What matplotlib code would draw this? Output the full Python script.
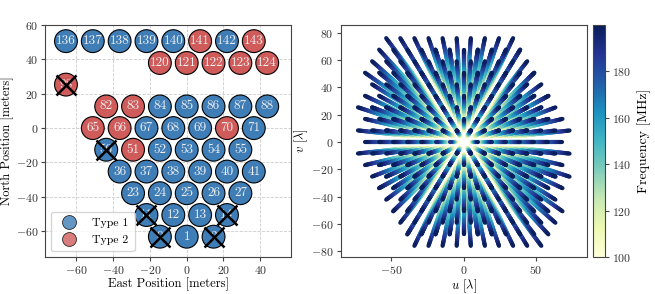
import numpy as np
import matplotlib
matplotlib.use("Agg")
import matplotlib.pyplot as plt
from matplotlib.collections import LineCollection
from matplotlib.lines import Line2D

plt.rcParams['font.family'] = 'serif'
plt.rcParams['font.serif'] = ['cmr10', 'DejaVu Serif']
plt.rcParams['mathtext.fontset'] = 'cm'
plt.rcParams['axes.formatter.use_mathtext'] = True
plt.rcParams['axes.unicode_minus'] = True

# antenna layout (meters), row by row
ant_num = [0, 1, 2,
           11, 12, 13, 14,
           23, 24, 25, 26, 27,
           36, 37, 38, 39, 40, 41,
           50, 51, 52, 53, 54, 55,
           65, 66, 67, 68, 69, 70, 71,
           82, 83, 84, 85, 86, 87, 88,
           98,
           120, 121, 122, 123, 124,
           136, 137, 138, 139, 140, 141, 142, 143]
ant_x = [-14.6, 0.0, 14.6,
         -21.9, -7.3, 7.3, 21.9,
         -29.2, -14.6, 0.0, 14.6, 29.2,
         -36.5, -21.9, -7.3, 7.3, 21.9, 36.5,
         -43.8, -29.2, -14.6, 0.0, 14.6, 29.2,
         -51.1, -36.5, -21.9, -7.3, 7.3, 21.9, 36.5,
         -43.8, -29.2, -14.6, 0.0, 14.6, 29.2, 43.8,
         -65.7,
         -14.6, 0.0, 14.6, 29.2, 43.8,
         -65.7, -51.1, -36.5, -21.9, -7.3, 7.3, 21.9, 36.5]
ant_y = [-63.2] * 3 + [-50.6] * 4 + [-37.9] * 5 + [-25.3] * 6 + [-12.6] * 6 + \
        [0.0] * 7 + [12.6] * 7 + [25.3] + [37.9] * 5 + [50.6] * 8
type2 = [51, 65, 66, 70, 82, 83, 98, 120, 121, 122, 123, 124, 141, 143]
flagged = [0, 2, 11, 14, 50, 98]

freq_min = 100.0   # MHz
freq_max = 199.9
n_freq = 40

blue = '#3f7db7'
red = '#d05b5b'

fig = plt.figure(figsize=(6.55, 2.94), dpi=100)
ax1 = fig.add_axes([0.069, 0.126, 0.376, 0.789])
ax2 = fig.add_axes([0.520, 0.126, 0.376, 0.789])
cax = fig.add_axes([0.906, 0.126, 0.018, 0.789])

# ---- left: array layout
cols = [red if n in type2 else blue for n in ant_num]
ax1.scatter(ant_x, ant_y, s=270, c=cols, edgecolors='k', linewidths=0.8, zorder=3)
for n, x, y in zip(ant_num, ant_x, ant_y):
    ax1.text(x, y, str(n), color='#eeeeee', fontsize=9.5, ha='center', va='center', zorder=4)
for n, x, y in zip(ant_num, ant_x, ant_y):
    if n in flagged:
        ax1.plot(x, y, marker='x', ms=15, mew=1.8, color='k', zorder=5)

ax1.set_xlim(-77, 57)
ax1.set_ylim(-75, 60)
ax1.set_xticks([-60, -40, -20, 0, 20, 40])
ax1.set_yticks([-60, -40, -20, 0, 20, 40, 60])
ax1.grid(True, ls='--', color='#cccccc', lw=0.6, zorder=0)
ax1.set_axisbelow(True)
ax1.set_xlabel('East Position [meters]', fontsize=9, labelpad=1)
ax1.set_ylabel('North Position [meters]', fontsize=9, labelpad=1)

handles = [Line2D([], [], ls='', marker='o', ms=10, mfc=blue, mec='k', mew=0.6, alpha=0.8),
           Line2D([], [], ls='', marker='o', ms=10, mfc=red, mec='k', mew=0.6, alpha=0.8)]
ax1.legend(handles, ['Type 1', 'Type 2'], loc='lower left', fontsize=8.5,
           handletextpad=1.0, borderpad=0.5, labelspacing=0.6, fancybox=True)

# ---- right: uv tracks over frequency
c_light = 299.792458  # m * MHz
freqs = np.linspace(freq_min, freq_max, n_freq)
bl = set()
for i in range(len(ant_x)):
    for j in range(len(ant_x)):
        if i != j:
            bl.add((round(ant_x[i] - ant_x[j], 1), round(ant_y[i] - ant_y[j], 1)))
bl = np.array(sorted(bl))
segs = []
segc = []
for k in range(n_freq - 1):
    f0, f1 = freqs[k], freqs[k + 1]
    for bx, by in bl:
        segs.append([(bx * f0 / c_light, by * f0 / c_light),
                     (bx * f1 / c_light, by * f1 / c_light)])
        segc.append(0.5 * (f0 + f1))
lc = LineCollection(segs, cmap='YlGnBu', linewidths=3.0, capstyle='round')
lc.set_array(np.array(segc))
lc.set_clim(freq_min, freq_max)
ax2.add_collection(lc)
ax2.set_xlim(-85, 85)
ax2.set_ylim(-84, 85.5)
ax2.set_xticks([-50, 0, 50])
ax2.set_yticks([-80, -60, -40, -20, 0, 20, 40, 60, 80])
ax2.set_xlabel(r'$u$ [$\lambda$]', fontsize=9, labelpad=1)
ax2.set_ylabel(r'$v$ [$\lambda$]', fontsize=9, labelpad=1)

cb = fig.colorbar(lc, cax=cax)
cb.set_ticks([100, 120, 140, 160, 180])
cb.set_label('Frequency [MHz]', fontsize=10)

for a in (ax1, ax2, cax):
    for sp in a.spines.values():
        sp.set_color('#444444')
    a.tick_params(labelsize=8.5, colors='#444444', labelcolor='#333333', length=3, pad=2)

fig.savefig('out.png', dpi=100)
